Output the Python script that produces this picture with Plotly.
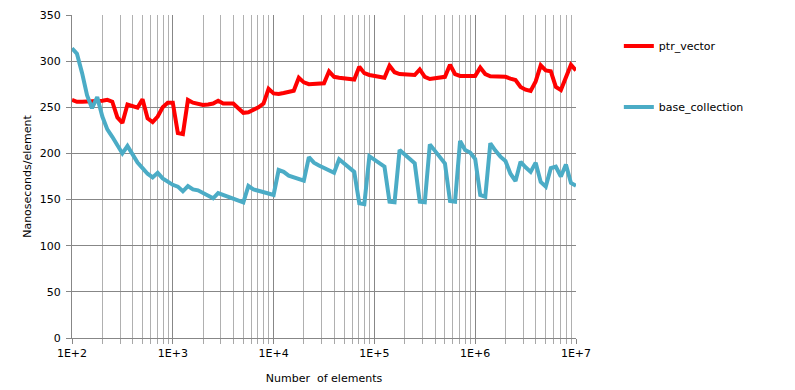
import plotly.graph_objects as go

# Number of elements (log-spaced sizes)
num_elements = [
    100, 112, 126, 141, 158, 178, 200, 224, 251, 282, 316, 355, 398, 447, 501, 562, 631, 708, 794, 891,
    1000, 1122, 1259, 1413, 1585, 1778, 1995, 2239, 2512, 2818, 3162, 3548, 3981, 4467, 5012, 5623, 6310, 7079, 7943, 8913,
    10000, 11220, 12589, 14125, 15849, 17783, 19953, 22387, 25119, 28184, 31623, 35481, 39811, 44668, 50119, 56234, 63096, 70795, 79433, 89125,
    100000, 112202, 125893, 141254, 158489, 177828, 199526, 223872, 251189, 281838, 316228, 354813, 398107, 446684, 501187, 562341, 630957, 707946, 794328, 891251,
    1000000, 1122018, 1258925, 1412538, 1584893, 1778279, 1995262, 2238721, 2511886, 2818383, 3162278, 3548134, 3981072, 4466836, 5011872, 5623413, 6309573, 7079458, 7943282, 8912509,
    10000000,
]

ptr_vector = [
    258, 256, 256, 256, 257, 257, 257, 258, 256, 239, 233, 253, 251, 249.6, 258.6, 238, 234, 240, 250, 255,
    255, 222, 221, 258, 255, 254, 252.5, 253, 254, 257, 254, 254, 254, 249, 244, 244.5, 247, 250, 254, 270,
    265, 264.4, 265.5, 266.5, 268, 282, 277, 275, 275, 275.5, 276, 289, 283, 282, 281, 280.5, 280, 294, 287, 285,
    284, 284, 282, 295, 288, 286, 285.5, 285, 285, 291, 283, 280.6, 281.5, 282.5, 283, 296, 286, 284, 284, 284,
    284, 293, 286, 283.5, 283, 283, 283, 281, 279.5, 272, 269, 267.6, 278, 295.5, 290, 289, 272, 268.7, 283, 296,
    290,
]

base_collection = [
    314, 308, 287, 263, 249, 261, 240, 226, 218, 208, 200, 208, 199, 190, 184, 178, 174, 179, 173, 169,
    166, 164, 159, 164.7, 161, 160, 157.5, 155, 151.4, 157, 155, 153, 151, 149, 147, 164.7, 161, 159.6, 158, 157,
    155, 182, 180, 176, 174, 172, 170.5, 196, 190, 187, 184, 181, 179, 193.6, 189, 185, 180, 146, 145, 197,
    193, 188.5, 185.6, 147.7, 147, 203.7, 199, 194, 189.3, 147.7, 147, 209.8, 202, 196, 189, 148.4, 147.7, 213.5, 203.7, 201,
    194, 155, 153, 211, 203, 196.5, 191.8, 178, 170, 191, 185, 180, 190, 169, 164, 184, 185.6, 175, 188, 168,
    165,
]

x_tick_vals = [1e2, 1e3, 1e4, 1e5, 1e6, 1e7]
x_tick_text = ["1E+2", "1E+3", "1E+4", "1E+5", "1E+6", "1E+7"]
y_tick_vals = [0, 50, 100, 150, 200, 250, 300, 350]

# minor log gridlines at 2..9 of each decade
minor_vals = [m * d for d in x_tick_vals[:-1] for m in range(2, 10)]

FONT = "DejaVu Sans"

fig = go.Figure()
fig.add_trace(go.Scatter(
    x=num_elements, y=ptr_vector, mode="lines", name="ptr_vector",
    line=dict(color="#FF0000", width=4), legend="legend",
))
fig.add_trace(go.Scatter(
    x=num_elements, y=base_collection, mode="lines", name="base_collection",
    line=dict(color="#4BACC6", width=4), legend="legend2",
))

# the page body adds an 8px offset; size the figure so it fits the window
fig.update_layout(
    width=787, height=382,
    margin=dict(l=64, r=219, t=7, b=52),
    paper_bgcolor="white", plot_bgcolor="white",
    font=dict(family=FONT, size=11, color="black"),
    showlegend=True,
    legend=dict(x=1.085, y=0.904, xanchor="left", yanchor="middle",
                font=dict(family=FONT, size=11), bgcolor="rgba(0,0,0,0)"),
    legend2=dict(x=1.085, y=0.715, xanchor="left", yanchor="middle",
                 font=dict(family=FONT, size=11), bgcolor="rgba(0,0,0,0)"),
    xaxis=dict(
        type="log", range=[2, 7], automargin=False,
        tickvals=x_tick_vals, ticktext=x_tick_text,
        showgrid=True, gridcolor="#878787", gridwidth=1,
        showline=True, linecolor="#878787", linewidth=1,
        ticks="outside", ticklen=5, tickcolor="#878787",
        minor=dict(tickvals=minor_vals, showgrid=True, gridcolor="#B0B0B0", gridwidth=1,
                   ticks="outside", ticklen=5, tickcolor="#A8A8A8"),
        title=dict(text="Number  of elements", font=dict(family=FONT, size=11)),
        tickfont=dict(family=FONT, size=11),
        zeroline=False,
    ),
    yaxis=dict(
        range=[0, 350], tickvals=y_tick_vals, automargin=False,
        showgrid=True, gridcolor="#878787", gridwidth=1,
        showline=True, linecolor="#878787", linewidth=1,
        ticks="outside", ticklen=5, tickcolor="#878787", ticklabelstandoff=3,
        title=dict(text="Nanoseconds/element", font=dict(family=FONT, size=11), standoff=5),
        tickfont=dict(family=FONT, size=11),
        zeroline=False,
    ),
)

fig.write_html("out.html")
